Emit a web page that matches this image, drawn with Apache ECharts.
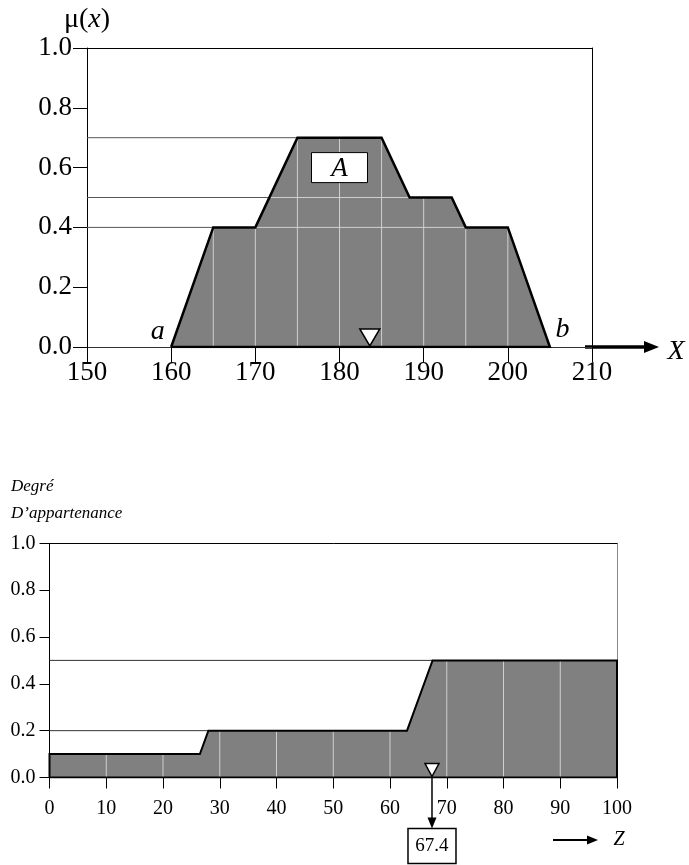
<!DOCTYPE html>
<html>
<head>
<meta charset="utf-8">
<script src="https://cdn.jsdelivr.net/npm/echarts@6/dist/echarts.min.js"></script>
<style>
  html, body { margin: 0; padding: 0; background: #fff; }
  #chart { width: 689px; height: 865px; }
</style>
</head>
<body>
<div id="chart"></div>
<script>
// ---- Fuzzy set A on universe X ----
const setAPoints = [[160, 0], [165, 0.4], [170, 0.4], [175, 0.7], [185, 0.7],
                    [188.33, 0.5], [193.33, 0.5], [195, 0.4], [200, 0.4], [205, 0]];
const setAGridX = [165, 170, 175, 180, 185, 190, 195, 200];
const setALevels = [0.7, 0.5, 0.4];
const setALevelLeftX = [175, 171.67, 165];
const setALevelRightX = [185, 188.33, 195];
const setAMarker = 183.6;
const setABoxPos = [180, 0.6];
const setAEndLabels = ['a', 'b'];
const setAEndLabelPos = [[158.4, 0.05], [206.5, 0.057]];

// ---- Aggregated output on universe Z ----
const aggPoints = [[0, 0.1], [26.5, 0.1], [28, 0.2], [63, 0.2], [67.5, 0.5], [100, 0.5]];
const aggGridX = [10, 20, 30, 40, 50, 60, 70, 80, 90];
const aggLevels = [0.5, 0.2];
const aggLevelLeftX = [67.5, 28];
const aggCentroid = 67.4;

const SERIF = "'Liberation Serif', 'Times New Roman', serif";
const FILL = '#808080';
const LIGHT = '#cfcfcf';

// membership value of a piecewise-linear profile at x
function heightAt(pts, x) {
  for (let i = 0; i < pts.length - 1; i++) {
    const [x0, y0] = pts[i], [x1, y1] = pts[i + 1];
    if (x >= x0 && x <= x1) return x1 === x0 ? Math.max(y0, y1) : y0 + (y1 - y0) * (x - x0) / (x1 - x0);
  }
  return 0;
}

function closedOutline(pts) {
  const first = pts[0], last = pts[pts.length - 1];
  const out = [];
  if (first[1] !== 0) out.push([first[0], 0]);
  pts.forEach(p => out.push(p));
  if (last[1] !== 0) out.push([last[0], 0]);
  out.push(out[0]);
  return out;
}

function segmentSeries(segs, color, width, gi, z) {
  return {
    type: 'custom', xAxisIndex: gi * 2, yAxisIndex: gi * 2, z: z, silent: true,
    encode: { x: [0, 2], y: [1, 3] },
    data: segs,
    renderItem: function (params, api) {
      const p1 = api.coord([api.value(0), api.value(1)]);
      const p2 = api.coord([api.value(2), api.value(3)]);
      return { type: 'line', shape: { x1: p1[0], y1: p1[1], x2: p2[0], y2: p2[1] },
               style: { stroke: color, lineWidth: width } };
    }
  };
}

// segments for set A
const setADark = setALevels.map((v, i) => [150, v, setALevelLeftX[i], v]);
const setALight = setALevels.map((v, i) => [setALevelLeftX[i], v, setALevelRightX[i], v])
  .filter((s, i) => setALevels[i] !== 0.7)
  .concat(setAGridX.map(x => [x, 0, x, heightAt(setAPoints, x)]));

// segments for aggregated output
const aggDark = aggLevels.map((v, i) => [0, v, aggLevelLeftX[i], v]);
const aggLight = aggGridX.map(x => [x, 0, x, heightAt(aggPoints, x)]);

const chart = echarts.init(document.getElementById('chart'), null, { renderer: 'canvas' });

const option = {
  animation: false,
  backgroundColor: '#fff',
  grid: [
    { left: 87, top: 48, width: 505, height: 299 },
    { left: 49.5, top: 543.3, width: 567.5, height: 234.2 }
  ],
  xAxis: [
    { gridIndex: 0, type: 'value', min: 150, max: 210, interval: 10,
      axisLine: { onZero: false, lineStyle: { color: '#333', width: 1 } },
      axisTick: { length: 15, lineStyle: { color: '#000', width: 1 } },
      axisLabel: { color: '#000', fontFamily: SERIF, fontSize: 27, margin: 12 },
      splitLine: { show: false } },
    { gridIndex: 0, type: 'value', min: 150, max: 210, position: 'top',
      axisLine: { onZero: false, lineStyle: { color: '#000', width: 1 } },
      axisTick: { show: false }, axisLabel: { show: false }, splitLine: { show: false } },
    { gridIndex: 1, type: 'value', min: 0, max: 100, interval: 10,
      axisLine: { onZero: false, lineStyle: { color: '#000', width: 1 } },
      axisTick: { length: 11, lineStyle: { color: '#000', width: 1 } },
      axisLabel: { color: '#000', fontFamily: SERIF, fontSize: 20, margin: 21 },
      splitLine: { show: false } },
    { gridIndex: 1, type: 'value', min: 0, max: 100, position: 'top',
      axisLine: { onZero: false, lineStyle: { color: '#000', width: 1 } },
      axisTick: { show: false }, axisLabel: { show: false }, splitLine: { show: false } }
  ],
  yAxis: [
    { gridIndex: 0, type: 'value', min: 0, max: 1, interval: 0.2,
      name: '{m|μ}{p|(}{x|x}{p|)}', nameLocation: 'end', nameGap: 14,
      nameTextStyle: { rich: {
        m: { fontFamily: SERIF, fontSize: 28, color: '#000' },
        p: { fontFamily: SERIF, fontSize: 28, color: '#000' },
        x: { fontFamily: SERIF, fontSize: 28, fontStyle: 'italic', color: '#000' } } },
      axisLine: { onZero: false, lineStyle: { color: '#000', width: 1 } },
      axisTick: { length: 14, lineStyle: { color: '#000', width: 1 } },
      axisLabel: { color: '#000', fontFamily: SERIF, fontSize: 27, margin: 15,
                   formatter: v => v.toFixed(1) },
      splitLine: { show: false } },
    { gridIndex: 0, type: 'value', min: 0, max: 1, position: 'right',
      axisLine: { onZero: false, lineStyle: { color: '#000', width: 1 } },
      axisTick: { show: false }, axisLabel: { show: false }, splitLine: { show: false } },
    { gridIndex: 1, type: 'value', min: 0, max: 1, interval: 0.2,
      axisLine: { onZero: false, lineStyle: { color: '#000', width: 1 } },
      axisTick: { length: 10, lineStyle: { color: '#000', width: 1 } },
      axisLabel: { color: '#000', fontFamily: SERIF, fontSize: 20, margin: 14,
                   formatter: v => v.toFixed(1) },
      splitLine: { show: false } },
    { gridIndex: 1, type: 'value', min: 0, max: 1, position: 'right',
      axisLine: { onZero: false, lineStyle: { color: '#888', width: 1 } },
      axisTick: { show: false }, axisLabel: { show: false }, splitLine: { show: false } }
  ],
  series: [
    // ---- set A ----
    segmentSeries(setADark, '#555', 1, 0, 1),
    { type: 'line', xAxisIndex: 0, yAxisIndex: 0, z: 2, data: setAPoints, symbol: 'none',
      silent: true, lineStyle: { width: 0 }, areaStyle: { color: FILL, opacity: 1 } },
    segmentSeries(setALight, LIGHT, 1, 0, 3),
    { type: 'line', xAxisIndex: 0, yAxisIndex: 0, z: 4, data: closedOutline(setAPoints),
      symbol: 'none', silent: true, lineStyle: { color: '#000', width: 2.5, join: 'miter' } },
    { type: 'custom', xAxisIndex: 0, yAxisIndex: 0, z: 5, silent: true,
      data: [[setAMarker, 0]],
      renderItem: function (params, api) {
        const p = api.coord([api.value(0), api.value(1)]);
        return { type: 'polygon', shape: { points: [[p[0] - 10, p[1] - 18], [p[0] + 10, p[1] - 18], [p[0], p[1] - 1]] },
                 style: { fill: '#fff', stroke: '#000', lineWidth: 1.5 } };
      } },
    { type: 'custom', xAxisIndex: 0, yAxisIndex: 0, z: 5, silent: true,
      data: [setABoxPos],
      renderItem: function (params, api) {
        const p = api.coord([api.value(0), api.value(1)]);
        return { type: 'group', children: [
          { type: 'rect', shape: { x: p[0] - 28, y: p[1] - 15, width: 56, height: 30 },
            style: { fill: '#fff', stroke: '#000', lineWidth: 1 } },
          { type: 'text', x: p[0], y: p[1] + 1,
            style: { text: 'A', fontFamily: SERIF, fontSize: 27, fontStyle: 'italic', fill: '#000',
                     align: 'center', verticalAlign: 'middle' } }
        ] };
      } },
    { type: 'custom', xAxisIndex: 0, yAxisIndex: 0, z: 5, silent: true,
      data: setAEndLabelPos,
      renderItem: function (params, api) {
        const p = api.coord([api.value(0), api.value(1)]);
        return { type: 'text', x: p[0], y: p[1],
                 style: { text: setAEndLabels[params.dataIndex], fontFamily: SERIF, fontSize: 28,
                          fontStyle: 'italic', fill: '#000', align: 'center', verticalAlign: 'middle' } };
      } },

    // ---- aggregated output ----
    segmentSeries(aggDark, '#333', 1, 1, 1),
    { type: 'line', xAxisIndex: 2, yAxisIndex: 2, z: 2, data: aggPoints, symbol: 'none',
      silent: true, lineStyle: { width: 0 }, areaStyle: { color: FILL, opacity: 1 } },
    segmentSeries(aggLight, LIGHT, 1, 1, 3),
    { type: 'line', xAxisIndex: 2, yAxisIndex: 2, z: 4, data: closedOutline(aggPoints),
      symbol: 'none', silent: true, lineStyle: { color: '#000', width: 2, join: 'miter' } },
    { type: 'custom', xAxisIndex: 2, yAxisIndex: 2, z: 5, silent: true,
      data: [[aggCentroid, 0]],
      renderItem: function (params, api) {
        const p = api.coord([api.value(0), api.value(1)]);
        const x = p[0], y = p[1];
        return { type: 'group', children: [
          { type: 'line', shape: { x1: x, y1: y, x2: x, y2: y + 42 },
            style: { stroke: '#000', lineWidth: 1.5 } },
          { type: 'polygon', shape: { points: [[x - 4.5, y + 40], [x + 4.5, y + 40], [x, y + 51]] },
            style: { fill: '#000' } },
          { type: 'polygon', shape: { points: [[x - 7, y - 14], [x + 7, y - 14], [x, y - 1]] },
            style: { fill: '#fff', stroke: '#000', lineWidth: 1.5 } },
          { type: 'rect', shape: { x: x - 24, y: y + 51, width: 48, height: 35 },
            style: { fill: '#fff', stroke: '#000', lineWidth: 1.5 } },
          { type: 'text', x: x, y: y + 69,
            style: { text: String(aggCentroid), fontFamily: SERIF, fontSize: 19, fill: '#000',
                     align: 'center', verticalAlign: 'middle' } }
        ] };
      } }
  ]
};

chart.setOption(option);

// axis direction arrows and captions, anchored to the axes' end points
const endA = chart.convertToPixel({ gridIndex: 0 }, [210, 0]);
const endZ = chart.convertToPixel({ gridIndex: 1 }, [100, 0]);
chart.setOption({
  graphic: [
    { type: 'line', shape: { x1: endA[0] - 7, y1: endA[1], x2: endA[0] + 58, y2: endA[1] },
      style: { stroke: '#000', lineWidth: 3.5 } },
    { type: 'polygon', shape: { points: [[endA[0] + 52, endA[1] - 6], [endA[0] + 67, endA[1]], [endA[0] + 52, endA[1] + 6]] },
      style: { fill: '#000' } },
    { type: 'text', x: endA[0] + 84, y: endA[1] + 5,
      style: { text: 'X', fontFamily: SERIF, fontSize: 28, fontStyle: 'italic', fill: '#000',
               align: 'center', verticalAlign: 'middle' } },
    { type: 'line', shape: { x1: endZ[0] - 64, y1: endZ[1] + 62.5, x2: endZ[0] - 28, y2: endZ[1] + 62.5 },
      style: { stroke: '#000', lineWidth: 2 } },
    { type: 'polygon', shape: { points: [[endZ[0] - 30, endZ[1] + 58], [endZ[0] - 19, endZ[1] + 62.5], [endZ[0] - 30, endZ[1] + 67]] },
      style: { fill: '#000' } },
    { type: 'text', x: endZ[0] + 2, y: endZ[1] + 62,
      style: { text: 'Z', fontFamily: SERIF, fontSize: 20, fontStyle: 'italic', fill: '#000',
               align: 'center', verticalAlign: 'middle' } },
    { type: 'text', left: 11, top: 473,
      style: { text: 'Degré\nD’appartenance', fontFamily: SERIF, fontSize: 17, fontStyle: 'italic',
               fill: '#000', lineHeight: 27 } }
  ]
});
</script>
</body>
</html>
